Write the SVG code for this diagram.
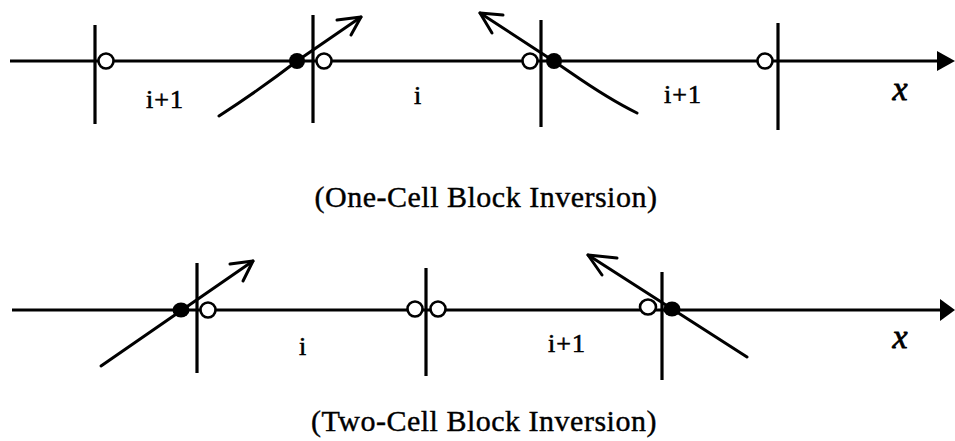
<svg xmlns="http://www.w3.org/2000/svg" width="955" height="441" viewBox="0 0 955 441">
<style>
.ln{stroke:#000;stroke-width:3;fill:none;stroke-linecap:round;stroke-linejoin:round}
.tk{stroke:#000;stroke-width:3.2;fill:none}
.op{fill:#fff;stroke:#000;stroke-width:2.6}
.fl{fill:#000}
.lb{font-family:"Liberation Serif","Times New Roman",serif;font-size:26px;fill:#000;stroke:#000;stroke-width:0.6;text-anchor:middle;letter-spacing:1px}
.ax{font-family:"Liberation Serif","Times New Roman",serif;font-size:34px;font-style:italic;fill:#000;stroke:#000;stroke-width:0.8;text-anchor:middle}
.cap{font-family:"Liberation Serif","Times New Roman",serif;font-size:30px;fill:#000;stroke:#000;stroke-width:0.4;text-anchor:middle;letter-spacing:0.5px}
</style>
<g id="connectors">
<line class="tk" x1="10" y1="61" x2="940" y2="61"/>
<polygon points="937,51 955,61 937,71" fill="#000"/>
<line class="tk" x1="12" y1="310" x2="942" y2="310"/>
<polygon points="940,299 955,310 940,321" fill="#000"/>
<path class="ln" d="M219,116 Q262,88 297,61 L361,17"/>
<path class="ln" d="M337,20 L361,17 L351,35"/>
<path class="ln" d="M480,13 L552,60 C575,75 600,95 637,113"/>
<path class="ln" d="M503,15 L480,13 L492,33"/>
<path class="ln" d="M101,366 L253,261"/>
<path class="ln" d="M230,264 L253,261 L243,281"/>
<path class="ln" d="M588,255 L747,357"/>
<path class="ln" d="M617,258 L588,255 L602,275"/>
</g>
<g id="top-row">
<line class="tk" x1="95" y1="25" x2="95" y2="124"/>
<line class="tk" x1="313" y1="15" x2="313" y2="123"/>
<line class="tk" x1="541" y1="20" x2="541" y2="127"/>
<line class="tk" x1="778" y1="23" x2="778" y2="130"/>
</g>
<g id="top-points">
<circle class="op" cx="106" cy="61" r="7.5"/>
<circle class="fl" cx="297" cy="61" r="8"/>
<circle class="op" cx="324" cy="61" r="7.5"/>
<circle class="op" cx="530" cy="61" r="7.5"/>
<circle class="fl" cx="554" cy="61" r="8"/>
<circle class="op" cx="765" cy="61" r="7.5"/>
</g>
<g id="top-labels">
<text class="lb" x="165" y="108">i+1</text>
<text class="lb" x="418" y="104">i</text>
<text class="lb" x="683" y="103">i+1</text>
<text class="ax" x="900" y="100">x</text>
<text class="cap" x="486" y="207">(One-Cell Block Inversion)</text>
</g>
<g id="bottom-row">
<line class="tk" x1="197" y1="263" x2="197" y2="373"/>
<line class="tk" x1="426" y1="268" x2="426" y2="376"/>
<line class="tk" x1="662" y1="272" x2="662" y2="380"/>
</g>
<g id="bottom-points">
<ellipse class="fl" cx="181" cy="310" rx="8.5" ry="7.5"/>
<circle class="op" cx="208" cy="310" r="7.5"/>
<circle class="op" cx="415" cy="309" r="7.5"/>
<circle class="op" cx="438" cy="309" r="7.5"/>
<ellipse class="op" cx="648" cy="307" rx="8" ry="7.5"/>
<ellipse class="fl" cx="672" cy="309" rx="8.5" ry="7.5"/>
</g>
<g id="bottom-labels">
<text class="lb" x="303" y="355">i</text>
<text class="lb" x="567" y="352">i+1</text>
<text class="ax" x="900" y="348">x</text>
<text class="cap" x="484" y="431">(Two-Cell Block Inversion)</text>
</g>
</svg>
